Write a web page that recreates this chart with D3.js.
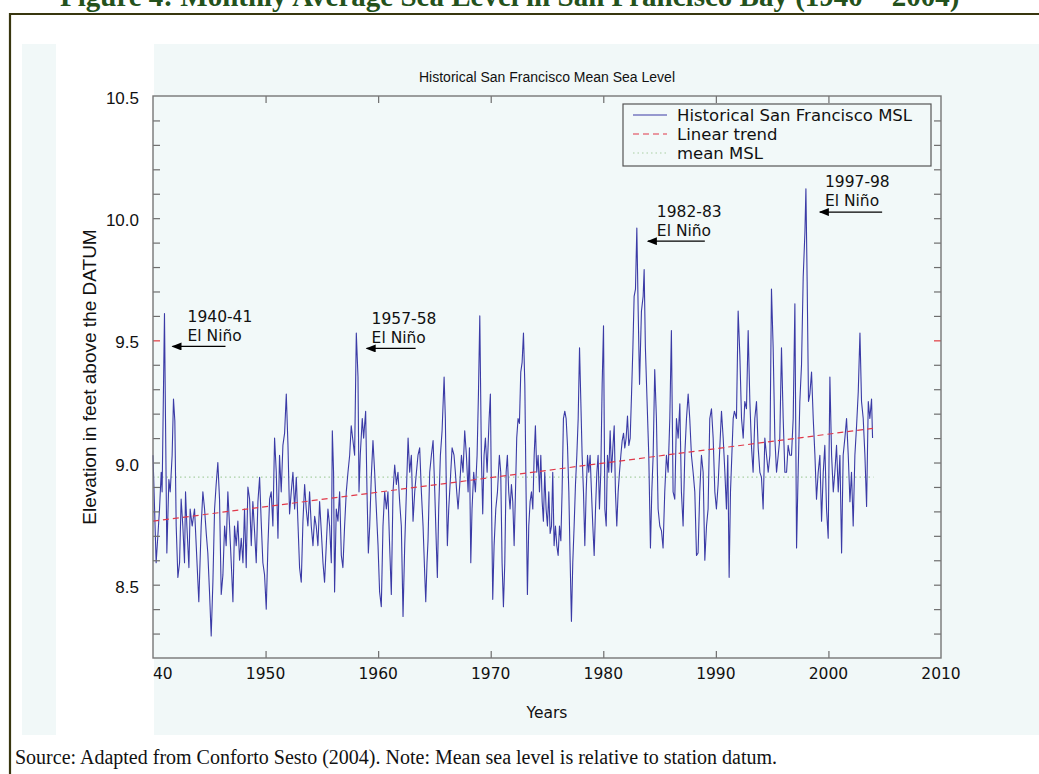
<!DOCTYPE html>
<html>
<head>
<meta charset="utf-8">
<script src="https://cdn.jsdelivr.net/npm/d3@7"></script>
<style>
  body { margin: 0; background: #fff; }
  svg { display: block; }
  text { font-family: "DejaVu Sans", sans-serif; fill: #111; }
</style>
</head>
<body>
<div id="chart"></div>
<script>
// monthly MSL, [year, feet above datum]
var msl1940_1961 = [
  [1940.0,9.03],[1940.28,8.59],[1940.58,8.81],[1940.73,8.96],[1940.81,8.88],[1941.02,9.61],[1941.11,9.18],[1941.23,8.63],
  [1941.41,8.93],[1941.53,8.88],[1941.70,9.03],[1941.82,9.26],[1941.94,9.17],[1942.06,8.74],[1942.21,8.53],[1942.36,8.59],
  [1942.50,8.85],[1942.65,8.74],[1942.80,8.59],[1942.89,8.88],[1943.01,8.74],[1943.19,8.57],[1943.30,8.81],[1943.48,8.74],
  [1943.69,8.81],[1943.84,8.66],[1944.07,8.43],[1944.28,8.74],[1944.43,8.88],[1944.58,8.81],[1944.73,8.71],[1944.87,8.63],
  [1945.02,8.47],[1945.17,8.29],[1945.32,8.51],[1945.47,8.81],[1945.61,8.91],[1945.76,9.00],[1945.91,8.85],[1946.06,8.46],
  [1946.21,8.54],[1946.36,8.74],[1946.50,8.66],[1946.65,8.88],[1946.80,8.74],[1946.95,8.59],[1947.10,8.43],[1947.24,8.74],
  [1947.39,8.66],[1947.54,8.76],[1947.69,8.60],[1947.84,8.69],[1947.99,8.59],[1948.13,8.81],[1948.28,8.57],[1948.43,8.90],
  [1948.58,8.85],[1948.73,8.66],[1948.87,8.84],[1949.02,8.72],[1949.17,8.59],[1949.32,8.84],[1949.47,8.94],[1949.61,8.76],
  [1949.76,8.59],[1949.91,8.54],[1950.06,8.40],[1950.21,8.66],[1950.36,8.85],[1950.50,8.88],[1950.65,8.74],[1950.80,9.10],
  [1950.95,8.96],[1951.10,8.69],[1951.24,9.03],[1951.39,8.88],[1951.54,9.07],[1951.69,9.12],[1951.84,9.28],[1951.99,9.07],
  [1952.13,8.79],[1952.28,8.88],[1952.43,8.96],[1952.58,8.81],[1952.73,8.94],[1952.87,8.76],[1953.02,8.57],[1953.17,8.51],
  [1953.32,8.76],[1953.47,8.91],[1953.61,8.81],[1953.76,8.74],[1953.91,8.88],[1954.06,8.74],[1954.21,8.66],[1954.36,8.78],
  [1954.50,8.74],[1954.65,8.66],[1954.80,8.84],[1954.95,8.72],[1955.10,8.59],[1955.24,8.51],[1955.39,8.66],[1955.54,8.81],
  [1955.69,8.74],[1955.84,8.59],[1955.93,9.13],[1956.04,8.96],[1956.13,8.47],[1956.28,8.81],[1956.43,8.76],[1956.58,8.88],
  [1956.73,8.62],[1956.87,8.57],[1957.02,8.74],[1957.17,8.88],[1957.32,8.96],[1957.47,9.03],[1957.61,9.15],[1957.76,9.09],
  [1957.91,9.03],[1958.06,9.53],[1958.21,9.35],[1958.30,8.88],[1958.41,9.03],[1958.59,9.18],[1958.71,9.10],[1958.89,9.21],
  [1959.01,8.88],[1959.13,8.63],[1959.25,8.74],[1959.39,8.94],[1959.54,9.09],[1959.69,8.96],[1959.84,8.81],[1959.99,8.66],
  [1960.13,8.47],[1960.28,8.41],[1960.43,8.74],[1960.58,8.88],[1960.73,8.81],[1960.87,8.88],[1961.02,8.66],[1961.17,8.46],
  [1961.32,8.88],[1961.47,8.99],[1961.62,8.91],[1961.76,8.96]
];
var msl1962_1983 = [
  [1961.91,8.84],[1962.06,8.74],[1962.21,8.37],[1962.36,8.66],[1962.51,8.88],[1962.66,9.10],[1962.80,8.96],[1962.95,9.03],
  [1963.10,8.76],[1963.25,8.88],[1963.40,8.96],[1963.54,9.03],[1963.69,9.06],[1963.84,8.88],[1963.99,8.74],[1964.14,8.54],
  [1964.23,8.43],[1964.34,8.59],[1964.43,8.68],[1964.58,8.96],[1964.73,9.03],[1964.88,9.09],[1965.03,8.88],[1965.17,8.66],
  [1965.26,8.53],[1965.38,8.81],[1965.53,9.03],[1965.68,9.13],[1965.86,9.35],[1965.97,9.18],[1966.06,8.88],[1966.15,8.66],
  [1966.27,8.81],[1966.45,8.96],[1966.57,9.06],[1966.74,9.03],[1966.86,8.96],[1966.98,8.88],[1967.10,8.81],[1967.25,8.91],
  [1967.40,9.03],[1967.54,8.96],[1967.69,9.13],[1967.84,9.03],[1967.99,8.88],[1968.11,9.06],[1968.23,8.59],[1968.34,8.81],
  [1968.49,8.96],[1968.64,8.88],[1968.79,9.03],[1968.91,9.28],[1969.03,9.60],[1969.17,9.03],[1969.29,8.79],[1969.41,9.03],
  [1969.53,9.10],[1969.68,8.96],[1969.86,9.18],[1969.97,9.28],[1970.06,8.88],[1970.18,8.44],[1970.30,8.66],[1970.45,8.81],
  [1970.60,8.88],[1970.77,9.03],[1970.89,8.96],[1971.01,8.59],[1971.13,8.41],[1971.25,8.59],[1971.37,8.96],[1971.48,9.03],
  [1971.60,8.88],[1971.72,8.81],[1971.84,8.91],[1971.96,8.84],[1972.08,8.66],[1972.20,8.88],[1972.31,9.10],[1972.43,9.18],
  [1972.55,9.16],[1972.67,9.37],[1972.79,9.41],[1972.91,9.53],[1973.03,9.32],[1973.14,8.88],[1973.26,8.46],[1973.38,8.74],
  [1973.50,8.84],[1973.62,8.88],[1973.74,8.81],[1973.86,9.03],[1973.97,9.15],[1974.09,8.96],[1974.21,9.03],[1974.33,8.88],
  [1974.45,9.03],[1974.57,8.84],[1974.68,8.76],[1974.80,8.96],[1974.92,8.81],[1975.04,8.74],[1975.16,8.88],[1975.28,8.71],
  [1975.40,8.74],[1975.51,8.96],[1975.63,8.66],[1975.75,8.74],[1975.87,8.66],[1975.99,8.62],[1976.11,8.74],[1976.23,8.68],
  [1976.34,8.88],[1976.46,9.18],[1976.58,9.21],[1976.70,9.18],[1976.82,9.07],[1976.94,8.88],[1977.06,8.59],[1977.17,8.35],
  [1977.29,8.59],[1977.41,8.74],[1977.53,8.91],[1977.65,9.03],[1977.77,9.18],[1977.89,9.47],[1978.00,9.26],[1978.12,9.03],
  [1978.24,8.88],[1978.36,8.66],[1978.48,8.88],[1978.60,9.03],[1978.71,8.96],[1978.83,9.03],[1978.95,8.88],[1979.07,8.74],
  [1979.19,8.62],[1979.31,8.81],[1979.43,8.96],[1979.54,9.03],[1979.66,8.81],[1979.78,8.96],[1979.90,9.32],[1980.02,9.56],
  [1980.14,8.81],[1980.26,8.74],[1980.37,9.03],[1980.49,8.96],[1980.61,9.13],[1980.73,8.96],[1980.85,9.06],[1980.97,9.15],
  [1981.08,8.88],[1981.20,8.74],[1981.32,8.88],[1981.44,8.96],[1981.56,9.03],[1981.68,9.09],[1981.80,9.12],[1981.91,9.06],
  [1982.03,9.10],[1982.15,9.19],[1982.27,9.07],[1982.39,9.10],[1982.51,9.28],[1982.63,9.47],[1982.74,9.68],[1982.86,9.71],
  [1982.98,9.96],[1983.10,9.62],[1983.22,9.32]
];
var msl1983_2003 = [
  [1983.39,9.62],[1983.54,9.68],[1983.63,9.79],[1983.74,9.47],[1983.89,9.25],[1984.04,9.03],[1984.19,8.65],[1984.31,8.88],
  [1984.43,9.03],[1984.57,9.38],[1984.72,9.18],[1984.87,8.81],[1985.02,8.74],[1985.17,8.72],[1985.31,8.65],[1985.46,8.88],
  [1985.61,9.03],[1985.76,8.96],[1985.91,9.18],[1986.05,9.54],[1986.20,8.88],[1986.35,8.85],[1986.50,9.18],[1986.65,9.10],
  [1986.80,9.24],[1986.94,8.88],[1987.09,8.74],[1987.24,9.03],[1987.39,9.18],[1987.54,9.28],[1987.68,9.18],[1987.83,9.03],
  [1987.98,8.96],[1988.13,8.88],[1988.28,8.62],[1988.42,8.63],[1988.57,8.88],[1988.72,9.03],[1988.87,8.96],[1989.02,8.60],
  [1989.17,8.74],[1989.31,8.81],[1989.46,9.18],[1989.61,9.22],[1989.76,9.10],[1989.91,8.88],[1990.05,8.81],[1990.20,8.91],
  [1990.35,9.06],[1990.50,9.21],[1990.65,9.10],[1990.80,8.96],[1990.94,8.81],[1991.06,9.03],[1991.18,8.53],[1991.30,8.88],
  [1991.42,9.03],[1991.54,9.18],[1991.65,9.21],[1991.83,9.18],[1991.98,9.62],[1992.13,9.44],[1992.28,9.18],[1992.43,9.10],
  [1992.57,9.25],[1992.72,9.22],[1992.87,9.54],[1993.02,9.25],[1993.17,9.06],[1993.31,8.96],[1993.46,9.18],[1993.61,9.25],
  [1993.76,9.06],[1993.91,8.96],[1994.05,8.94],[1994.20,8.81],[1994.35,9.10],[1994.50,9.03],[1994.65,8.96],[1994.80,9.03],
  [1994.94,9.71],[1995.09,9.47],[1995.24,9.10],[1995.39,8.96],[1995.54,9.03],[1995.68,9.10],[1995.83,9.47],[1995.98,9.18],
  [1996.13,8.96],[1996.28,8.96],[1996.42,9.07],[1996.57,9.03],[1996.72,9.03],[1996.87,9.18],[1997.02,9.65],[1997.17,8.65],
  [1997.31,8.96],[1997.46,9.25],[1997.61,9.40],[1997.76,9.76],[1997.91,9.94],[1998.00,10.12],[1998.11,9.74],[1998.23,9.25],
  [1998.35,9.28],[1998.50,9.37],[1998.65,9.18],[1998.80,9.03],[1998.94,8.85],[1999.09,8.96],[1999.24,9.03],[1999.39,8.76],
  [1999.54,8.96],[1999.68,9.07],[1999.83,8.81],[1999.98,8.69],[2000.13,9.35],[2000.28,9.03],[2000.43,8.88],[2000.57,8.96],
  [2000.72,9.07],[2000.87,8.88],[2001.02,9.03],[2001.17,8.63],[2001.31,9.03],[2001.46,9.10],[2001.61,9.18],[2001.76,9.03],
  [2001.91,8.84],[2002.05,8.96],[2002.20,8.74],[2002.35,9.03],[2002.50,9.15],[2002.65,9.29],[2002.80,9.53],[2002.94,9.25],
  [2003.09,9.18],[2003.24,9.03],[2003.39,8.82],[2003.54,9.25],[2003.68,9.18],[2003.83,9.26],[2003.92,9.10]
];
var trendLine = [[1940, 8.76], [2004, 9.14]];
var meanMSL = [[1940, 8.94], [2004, 8.94]];
var xTickYears = [1940, 1950, 1960, 1970, 1980, 1990, 2000, 2010];
var yTickLevels = [8.5, 9.0, 9.5, 10.0, 10.5];
var legendLabels = ["Historical San Francisco MSL", "Linear trend", "mean MSL"];
var elNino = [
  {label: "1940-41", tx: 1943.07, ty: 9.574, ax0: 1946.44, ax1: 1941.73, ay: 9.475},
  {label: "1957-58", tx: 1959.42, ty: 9.566, ax0: 1963.33, ax1: 1958.98, ay: 9.467},
  {label: "1982-83", tx: 1984.76, ty: 10.004, ax0: 1989.02, ax1: 1983.96, ay: 9.906},
  {label: "1997-98", tx: 1999.69, ty: 10.127, ax0: 2004.77, ax1: 1999.24, ay: 10.025}
];

var data = msl1940_1961.concat(msl1962_1983, msl1983_2003);

var width = 1039, height = 774;
var svg = d3.select("#chart").append("svg")
    .attr("width", width)
    .attr("height", height);

// cut-off page heading + frame
svg.append("text")
    .attr("x", 60).attr("y", 6)
    .style("font-family", "'Liberation Serif', 'Times New Roman', serif")
    .style("font-weight", "bold")
    .style("font-size", "29px")
    .style("fill", "#24521c")
    .text("Figure 4: Monthly Average Sea Level in San Francisco Bay (1940 – 2004)");
svg.append("path")
    .attr("d", "M10,774 V14 H1039")
    .attr("fill", "none")
    .attr("stroke", "#38360f")
    .attr("stroke-width", 2.2);

// light backdrop of the pasted figure
svg.append("rect").attr("x", 22).attr("y", 44).attr("width", 1017).attr("height", 691).attr("fill", "#f1f8f8");
svg.append("rect").attr("x", 56).attr("y", 44).attr("width", 98).attr("height", 691).attr("fill", "#ffffff");

var x = d3.scaleLinear().domain([1940, 2010]).range([153, 941]);
var y = d3.scaleLinear().domain([8.2, 10.5]).range([658, 96]);

svg.append("rect")
    .attr("x", x(1940)).attr("y", y(10.5))
    .attr("width", x(2010) - x(1940)).attr("height", y(8.2) - y(10.5))
    .attr("fill", "#f2f9f9");

svg.append("text")
    .attr("x", 547).attr("y", 82)
    .attr("text-anchor", "middle")
    .style("font-family", "'Liberation Sans', Arial, sans-serif")
    .style("font-size", "14px")
    .text("Historical San Francisco Mean Sea Level");

var line = d3.line().x(function (d) { return x(d[0]); }).y(function (d) { return y(d[1]); });

// mean and trend
svg.append("path")
    .datum(meanMSL)
    .attr("fill", "none")
    .attr("stroke", "#a9cfa4")
    .attr("stroke-width", 1.3)
    .attr("stroke-dasharray", "1.5,3")
    .attr("d", line);

svg.append("path")
    .datum(data)
    .attr("fill", "none")
    .attr("stroke", "#3b3ba6")
    .attr("stroke-width", 1.1)
    .attr("stroke-linejoin", "round")
    .attr("d", line);

svg.append("path")
    .datum(trendLine)
    .attr("fill", "none")
    .attr("stroke", "#e0394a")
    .attr("stroke-width", 1.2)
    .attr("stroke-dasharray", "6,4")
    .attr("d", line);

// axes, ticks pointing in
var minorY = d3.range(8.3, 10.45, 0.1).map(function (v) { return Math.round(v * 10) / 10; });
var majorX = xTickYears.slice(1, -1);

var gBottom = svg.append("g").attr("transform", "translate(0," + y(8.2) + ")")
    .call(d3.axisBottom(x).tickValues(majorX).tickSize(-7).tickFormat(""));
var gTop = svg.append("g").attr("transform", "translate(0," + y(10.5) + ")")
    .call(d3.axisTop(x).tickValues(majorX).tickSize(-7).tickFormat(""));
var gLeft = svg.append("g").attr("transform", "translate(" + x(1940) + ",0)")
    .call(d3.axisLeft(y).tickValues(minorY).tickSize(-7).tickFormat(""));
var gRight = svg.append("g").attr("transform", "translate(" + x(2010) + ",0)")
    .call(d3.axisRight(y).tickValues(minorY).tickSize(-7).tickFormat(""));

[gBottom, gTop, gLeft, gRight].forEach(function (g) {
    g.select(".domain").remove();
    g.selectAll(".tick line").attr("stroke", "#6e6e6e").attr("stroke-width", 1.2);
});
[gLeft, gRight].forEach(function (g) {
    g.selectAll(".tick line").filter(function (d) { return d === 9.5; }).attr("stroke", "#e0393e");
});

svg.append("rect")
    .attr("x", x(1940)).attr("y", y(10.5))
    .attr("width", x(2010) - x(1940)).attr("height", y(8.2) - y(10.5))
    .attr("fill", "none")
    .attr("stroke", "#777")
    .attr("stroke-width", 1.4);

// tick labels
svg.selectAll(".xlab").data(xTickYears).enter().append("text")
    .attr("class", "xlab")
    .attr("x", function (d) { return x(d); })
    .attr("y", 679)
    .attr("text-anchor", function (d) { return d === 1940 ? "start" : "middle"; })
    .style("font-size", "15.5px")
    .text(function (d) { return d === 1940 ? "40" : d; });

svg.selectAll(".ylab").data(yTickLevels).enter().append("text")
    .attr("class", "ylab")
    .attr("x", 139)
    .attr("y", function (d) { return y(d) + 8; })
    .attr("text-anchor", "end")
    .style("font-family", "'Liberation Sans', Arial, sans-serif")
    .style("font-size", "17px")
    .text(function (d) { return d3.format(".1f")(d); });

svg.append("text")
    .attr("x", 547).attr("y", 718)
    .attr("text-anchor", "middle")
    .style("font-size", "15.5px")
    .text("Years");

svg.append("text")
    .attr("transform", "translate(96," + y(9.35) + ") rotate(-90)")
    .attr("text-anchor", "middle")
    .style("font-family", "'Liberation Sans', Arial, sans-serif")
    .style("font-size", "19px")
    .text("Elevation in feet above the DATUM");

// El Nino notes
svg.append("defs").append("marker")
    .attr("id", "head")
    .attr("viewBox", "0 0 10 8")
    .attr("refX", 9).attr("refY", 4)
    .attr("markerWidth", 11).attr("markerHeight", 8)
    .attr("markerUnits", "userSpaceOnUse")
    .attr("orient", "auto")
    .append("path").attr("d", "M0,0 L10,4 L0,8 Z").attr("fill", "#000");

var note = svg.selectAll(".note").data(elNino).enter().append("g").attr("class", "note");
note.append("text")
    .attr("x", function (d) { return x(d.tx); })
    .attr("y", function (d) { return y(d.ty); })
    .style("font-size", "15.5px")
    .text(function (d) { return d.label; });
note.append("text")
    .attr("x", function (d) { return x(d.tx); })
    .attr("y", function (d) { return y(d.ty) + 19; })
    .style("font-size", "15.5px")
    .text("El Niño");
note.append("line")
    .attr("x1", function (d) { return x(d.ax0); })
    .attr("x2", function (d) { return x(d.ax1); })
    .attr("y1", function (d) { return y(d.ay); })
    .attr("y2", function (d) { return y(d.ay); })
    .attr("stroke", "#000")
    .attr("stroke-width", 1.2)
    .attr("marker-end", "url(#head)");

// legend
var legend = svg.append("g");
legend.append("rect")
    .attr("x", 623).attr("y", 104).attr("width", 308).attr("height", 62)
    .attr("fill", "#f2f9f9").attr("stroke", "#555").attr("stroke-width", 1.2);
var legStyles = [
    {stroke: "#3b3ba6", dash: null},
    {stroke: "#e0394a", dash: "6,4"},
    {stroke: "#a9cfa4", dash: "1.5,3"}
];
legend.selectAll(".li").data(legendLabels).enter().append("g")
    .attr("class", "li")
    .attr("transform", function (d, i) { return "translate(0," + (115 + i * 19) + ")"; })
    .each(function (d, i) {
        var g = d3.select(this);
        g.append("line").attr("x1", 633).attr("x2", 667)
            .attr("stroke", legStyles[i].stroke)
            .attr("stroke-width", 1.2)
            .attr("stroke-dasharray", legStyles[i].dash);
        g.append("text").attr("x", 677).attr("y", 6)
            .style("font-size", "16.5px")
            .text(d);
    });

svg.append("text")
    .attr("x", 15).attr("y", 764)
    .style("font-family", "'Liberation Serif', 'Times New Roman', serif")
    .style("font-size", "20px")
    .text("Source: Adapted from Conforto Sesto (2004). Note: Mean sea level is relative to station datum.");
</script>
</body>
</html>
